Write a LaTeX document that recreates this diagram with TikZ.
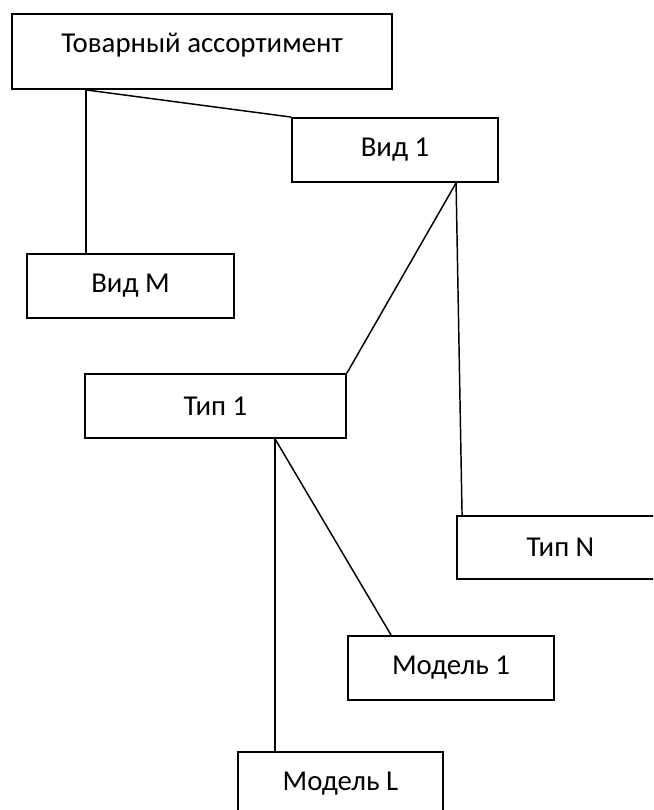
\documentclass[tikz,border=0pt]{standalone}
\usepackage{fontspec}
\setmainfont{Carlito}
\usepackage{tikz}
\usetikzlibrary{calc}
\tikzset{
  box/.style={
    draw,
    line width=1.4pt,
    inner sep=0pt,
    minimum height=48pt,
    font=\fontsize{21.6}{26}\selectfont},
  link/.style={
    line width=1.1pt}
  }

\begin{document}
\begin{tikzpicture}[x=0.75pt,y=-0.75pt]
    \clip (0,0) rectangle (653,810);
    \useasboundingbox (0,0) rectangle (653,810);
    \node[box, minimum width=285pt, text height=29pt, text depth=27.25pt] (tovar) at (202,51.5) {Товарный ассортимент};
    \node[box, minimum width=154.5pt] (vid1) at (395,150) {Вид 1};
    \node[box, minimum width=155.25pt] (vidm) at (130.5,286) {Вид М};
    \node[box, minimum width=195.75pt] (tip1) at (215.5,406) {Тип 1};
    \node[box, minimum width=155.25pt, minimum height=47.25pt] (tipn) at (560.5,547.5) {Тип N};
    \node[box, minimum width=154.5pt] (model1) at (451,668) {Модель 1};
    \node[box, minimum width=153.75pt] (modell) at (340.5,784) {Модель L};
    \draw [link]
    ([xshift=56.25pt]tovar.south west) edge[] ([xshift=45pt]vidm.north west)
    ([xshift=56.25pt]tovar.south west) edge[] (vid1.north west)
    ([xshift=123.75pt]vid1.south west) edge[] (tip1.north east)
    ([xshift=123.75pt]vid1.south west) edge[] ([xshift=4.5pt]tipn.north west)
    ([xshift=143.25pt]tip1.south west) edge[] ([xshift=28.5pt]modell.north west)
    ([xshift=143.25pt]tip1.south west) edge[] ([xshift=33pt]model1.north west);
\end{tikzpicture}
\end{document}
